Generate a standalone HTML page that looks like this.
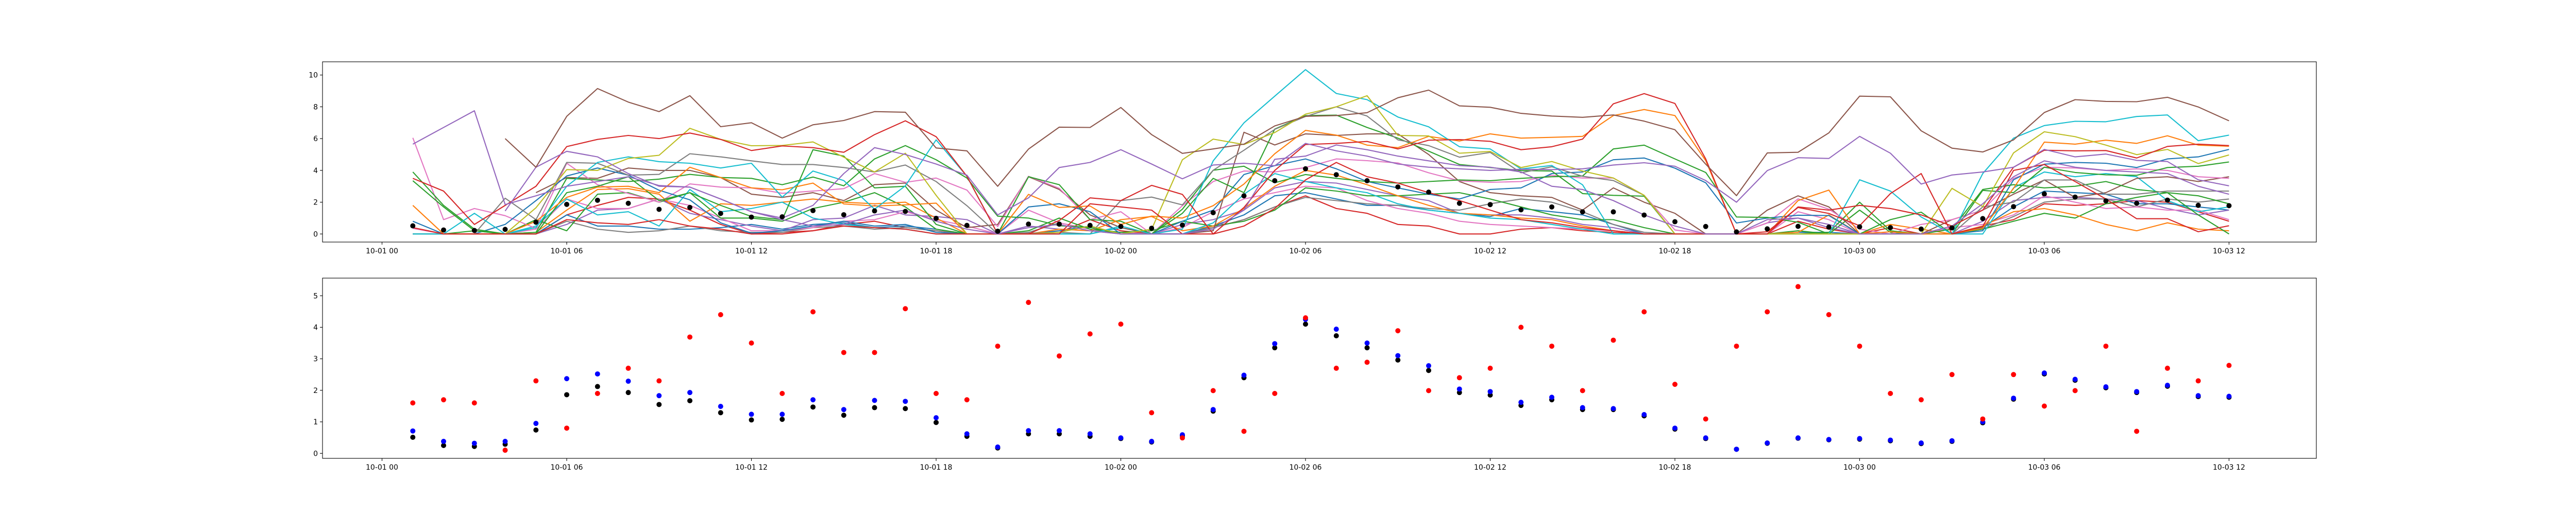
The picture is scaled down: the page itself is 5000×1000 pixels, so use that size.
<!DOCTYPE html>
<html><head><meta charset="utf-8">
<style>
html,body{margin:0;padding:0;background:#fff;}
svg{display:block;font-family:"DejaVu Sans","Liberation Sans",sans-serif;}
</style></head>
<body>
<svg id="fig" width="5000" height="1000" viewBox="0 0 5000 1000" xmlns="http://www.w3.org/2000/svg">
<rect x="0" y="0" width="5000" height="1000" fill="#fff"/>
<g id="top"></g>
<g id="bot"></g>
</svg>
<script>
const hours=[1,2,3,4,5,6,7,8,9,10,11,12,13,14,15,16,17,18,19,20,21,22,23,24,25,26,27,28,29,30,31,32,33,34,35,36,37,38,39,40,41,42,43,44,45,46,47,48,49,50,51,52,53,54,55,56,57,58,59,60];
const xTickHours=[0,6,12,18,24,30,36,42,48,54,60];
const xTickLabels=["10-01 00","10-01 06","10-01 12","10-01 18","10-02 00","10-02 06","10-02 12","10-02 18","10-03 00","10-03 06","10-03 12"];
const topYTicks=[0,2,4,6,8,10];
const botYTicks=[0,1,2,3,4,5];
const meanVals=[0.51,0.25,0.22,0.29,0.74,1.86,2.12,1.93,1.55,1.67,1.29,1.06,1.08,1.47,1.21,1.45,1.42,0.98,0.54,0.17,0.62,0.62,0.54,0.47,0.36,0.56,1.34,2.40,3.35,4.10,3.73,3.35,2.96,2.63,1.93,1.85,1.52,1.70,1.39,1.39,1.19,0.77,0.47,0.13,0.32,0.48,0.43,0.45,0.40,0.31,0.38,0.97,1.72,2.52,2.32,2.08,1.93,2.13,1.80,1.78];
const blueVals=[0.71,0.38,0.32,0.38,0.95,2.37,2.52,2.29,1.83,1.93,1.49,1.24,1.24,1.70,1.39,1.68,1.65,1.13,0.62,0.20,0.72,0.72,0.62,0.49,0.38,0.59,1.39,2.48,3.48,4.25,3.94,3.50,3.10,2.78,2.04,1.96,1.62,1.78,1.45,1.42,1.23,0.80,0.49,0.13,0.33,0.49,0.44,0.47,0.42,0.33,0.40,1.00,1.75,2.55,2.35,2.11,1.96,2.16,1.83,1.81];
const redVals=[1.60,1.70,1.60,0.10,2.30,0.80,1.90,2.70,2.30,3.69,4.40,3.50,1.90,4.49,3.20,3.20,4.59,1.90,1.70,3.40,4.79,3.09,3.79,4.10,1.29,0.49,1.99,0.70,1.90,4.30,2.70,2.89,3.89,1.99,2.40,2.70,4.00,3.40,1.99,3.59,4.49,2.19,1.09,3.40,4.49,5.29,4.40,3.40,1.90,1.70,2.50,1.09,2.50,1.50,1.99,3.40,0.70,2.70,2.30,2.79];

const c8=[0.4,0,0,0,0,1.2,1.8,2.3,2.2,1.5,0.6,0,0.1,0.2,0.6,0.8,0.4,0.2,0,0,0,0.1,0.9,0.2,0,0,0.4,0.9,1.7,2.4,1.6,1.3,0.6,0.5,0,0,0.3,0.4,0.2,0.1,0,0,0,0,0,0.8,0.3,0,0.4,0,0,0.5,0.9,1.9,1.8,1.9,2.1,2.0,1.4,0.8];
const c7=[0,0,0,0,0,1.2,0.5,0.5,0.3,0.3,0.4,0.6,0.3,0.6,0.7,0.4,0.5,0.3,0,0,0,0.2,0.5,0,0,0,0.5,1.2,2.4,2.6,2.2,1.8,1.8,1.5,1.3,1.1,1.6,1.4,1.2,0.6,0,0,0,0,0,0.1,0.1,0,0,0,0,0.4,1.7,2.7,2.6,2.5,1.9,1.9,1.7,1.5];
const c6=[0,0,0,0,0,0.6,1.5,1.6,2.2,1.3,0.9,0.5,0.2,0.9,1.0,1.8,1.2,1.1,0.9,0,0.5,0.3,0.2,0,0,0.6,0.9,1.5,2.9,3.3,3.2,2.8,2.4,2.1,1.3,1.2,1.2,1.0,0.6,0.4,0,0,0,0,0.7,1.0,0.4,0,0,0,0,0.8,2.1,2.3,2.3,2.2,2.1,1.6,1.2,1.5];
const c5=[0,0,0,0,0,0.8,0.3,0.1,0.2,0.5,0.2,0.1,0.1,0.4,0.5,0.3,0.4,0.2,0,0,0.1,0.7,0.3,0,0,0,0.4,0.9,1.7,2.3,2.1,1.9,1.8,1.6,1.5,1.9,2.2,2.0,1.4,0.6,0.1,0,0,0,0,0,0,0,0,0,0,0.3,1.1,2.0,2.2,2.2,1.7,2.2,2.0,2.2];
const c4=[0.35,0,0,0,0.3,2.2,1.6,1.6,2.2,1.8,1.0,0.2,0.2,0.4,0.8,0.9,1.4,0.9,0.5,0,1.5,0.7,0.3,0.1,0,0.4,1.4,2.2,2.6,3.0,2.9,2.1,1.6,1.3,0.8,0.6,0.5,0.4,0.3,0.2,0,0,0,0,0,1.4,0.9,0,0,0,0.4,0.6,1.2,2.4,2.0,1.6,1.7,1.5,1.5,0.9];
const c3=[0,0,0.2,0,0.9,0.2,2.5,2.6,2.0,2.6,1.0,1.0,0.8,1.6,2.0,2.6,1.7,0.3,0,0,0.2,1.0,0.3,0.1,0.2,0.8,0.5,0.8,1.5,2.9,2.7,2.4,2.4,2.5,2.6,2.2,1.7,1.2,0.9,0.9,0.4,0,0,0,0,0.2,0,1.5,0.1,0,0,0.3,0.8,1.3,1.0,1.9,2.3,2.6,2.4,1.9];
const c2=[0,0,0,0,0.1,1.5,2.8,2.85,2.5,0.8,1.9,1.8,2.0,2.2,2.0,1.9,2.0,1.0,0,0,0,0.3,0.2,0.9,1.1,0.2,0.5,1.6,3.0,4.0,3.7,3.1,2.4,1.8,1.3,1.2,1.0,0.9,0.5,0.2,0,0,0,0,0,0.1,1.2,0,0.6,0.3,0,0.5,1.4,1.6,1.2,0.6,0.2,0.7,0.3,0.2];
const c1=[0,0,0,0,0.5,2.2,1.2,1.4,0.5,2.8,1.4,1.6,2.0,1.0,0.6,0.4,0.3,0,0,0,0,0,0,0.4,0,0,0.7,2.5,3.8,3.3,2.9,2.6,1.9,1.5,1.3,1.0,0.9,0.6,0.3,0,0,0,0,0,0,0,0,0,0,0,0,0,2.9,3.9,3.6,3.8,3.6,2.1,1.4,1.7];
const brown2=[null,null,null,null,2.6,3.55,3.5,4.15,4.0,4.0,3.55,2.5,2.3,2.6,2.1,3.1,3.2,1.5,0.4,0.6,3.6,2.8,1.2,0.4,0,0,0.2,6.4,5.6,6.3,6.2,6.3,6.3,5.0,3.3,2.6,2.4,2.3,1.5,2.9,2.0,1.3,0,0,1.5,2.4,1.7,0,0,0,0.9,1.5,2.5,3.4,2.3,2.6,3.5,3.6,3.3,3.6];
const pinkLine=[6.05,0.9,1.6,1.15,0.35,4.45,3.1,2.55,2.0,3.15,2.95,2.9,2.56,2.7,2.85,3.8,3.25,3.52,2.76,0.47,3.63,2.87,0.9,1.4,0,1.78,3.3,3.96,3.9,4.18,4.72,4.61,4.47,3.85,3.34,3.25,3.3,3.69,3.52,3.52,2.43,0.25,0,0,0.69,2.21,1.56,0.3,0,0.6,0.9,1.5,3.5,4.2,4.15,4.0,4.1,4.0,3.6,3.5];
const blueLine=[0.8,0,0,0.6,2.1,3.65,4.15,3.7,2.75,2.15,0.7,0.05,0.2,0.5,0.8,0.5,0.6,0.1,0,0,1.7,1.9,1.4,0,0,0.8,1.5,3.74,4.3,4.72,4.1,3.3,2.9,2.5,2.2,2.8,2.9,3.8,3.9,4.67,4.78,4.14,3.22,0.69,1.0,1.18,1.16,0,0,0,0,0.2,3.41,4.39,4.5,4.45,4.18,4.72,4.85,5.32];
const green2=[3.35,1.7,0.2,0,0,2.6,3.0,3.6,2.1,2.6,1.8,1.1,0.9,5.3,4.9,2.9,3.0,0.6,0,0,3.6,3.1,0.9,0.8,0,1.3,3.5,2.6,6.6,7.45,7.48,6.7,6.03,5.21,4.37,4.18,3.99,3.96,2.54,2.43,2.38,0,0,0,0,0,0.1,2.0,0.2,0,0.3,2.8,3.1,2.9,3.0,3.3,2.8,2.6,1.2,0];
const green1=[3.9,1.8,0.3,0,0.1,3.5,3.4,3.3,3.45,3.75,3.55,3.5,3.1,3.58,3.03,4.72,5.56,4.67,3.52,1.12,1.0,0.52,0.41,0,0,1.56,4.01,4.26,3.22,3.74,3.5,3.3,3.2,3.3,3.4,3.35,3.5,3.6,3.65,5.35,5.59,4.72,3.87,1.07,1.04,0.74,0,0,0.9,1.37,0,2.74,2.6,4.2,3.87,3.72,3.69,4.18,4.26,4.53];
const grayLine=[0,0,0,2.25,0.9,4.5,4.45,3.7,3.75,5.05,4.85,4.6,4.37,4.37,4.18,3.9,4.34,3.3,1.78,0,0.05,0.1,0,2.1,2.32,1.83,4.01,5.27,6.58,7.39,8.0,7.42,5.92,5.56,4.83,5.13,3.85,4.23,3.63,3.36,2.43,0,0,0,0,0,0,0,0,0,0,1.7,2.0,3.4,3.4,2.5,2.5,2.7,2.7,2.7];
const orangeLine=[1.8,0,0,0,0.8,2.3,2.95,3.0,2.6,4.2,3.55,2.9,2.78,3.2,1.89,1.76,1.83,1.94,0,0,2.49,1.67,1.76,0.6,1.12,1.0,1.78,3.14,5.05,6.52,6.22,5.59,5.43,6.14,5.85,6.3,6.03,6.08,6.14,7.45,7.83,7.45,4.61,0,0,2.1,2.76,0,0.14,0,0,0.36,2.87,5.78,5.65,5.9,5.7,6.18,5.59,5.52];
const cyanLine=[0,0,1.3,0,0.4,3.0,4.5,4.85,4.55,4.45,4.15,4.45,2.32,3.96,3.36,1.56,3.03,5.92,3.63,0,0,0,0,0.5,0,0.3,4.6,6.99,8.67,10.34,8.84,8.45,7.36,6.74,5.49,5.35,4.09,4.31,3.09,0,0,0,0,0,0,0,0,3.41,2.7,1.07,0,3.8,6.03,6.82,7.09,7.06,7.39,7.49,5.87,6.22];
const oliveLine=[null,null,null,0,1.65,4.05,4.0,4.75,4.95,6.65,5.95,5.55,5.57,5.79,4.83,3.9,5.08,2.43,0,0,0,0.1,0.5,0,0.3,4.67,5.97,5.63,6.38,7.54,8.0,8.7,6.2,6.17,5.08,5.19,4.18,4.56,3.96,3.52,2.43,0,0,0,0,0,0,0,0,0,2.87,1.72,5.1,6.43,6.12,5.59,4.99,5.32,4.43,4.97];
const red2=[0.4,0,0,0,0,0.9,0.7,0.6,0.9,0.5,0.3,0,0,0.2,0.5,0.4,0.3,0,0,0,0,0,1.9,1.7,1.5,0,0,0.5,1.6,3.4,4.5,3.6,3.2,2.6,2.1,1.5,0.9,0.7,0.4,0.2,0,0,0,0,0,1.7,1.5,1.8,1.6,1.2,0.5,1.5,4.2,5.27,5.23,5.25,4.78,5.51,5.65,5.56];
const red1=[3.5,2.7,0.6,1.8,3.0,5.5,5.95,6.2,6.0,6.35,5.95,5.25,5.54,5.43,5.14,6.25,7.12,6.12,3.63,0,0,0.85,2.27,2.1,3.06,2.49,0,1.67,4.0,5.63,5.7,5.82,5.35,5.9,5.94,5.83,5.3,5.49,5.97,8.19,8.83,8.21,4.72,0,0.14,1.67,1.29,0.52,2.54,3.8,0,0.47,4.0,4.37,3.3,2.2,0.96,0.96,0.14,0.52];
const purple1=[null,null,null,1.45,4.2,5.2,4.85,3.8,3.0,2.95,2.2,1.4,0.9,0.5,0.6,1.2,1.5,0.8,0.3,0,0.4,0.6,0.2,0,0,0,0.3,1.5,4.7,4.9,5.6,5.3,4.9,4.6,4.3,4.2,3.9,3.0,2.8,2.1,1.2,0.5,0,0,0.9,1.0,0.6,0,0,0,0.5,1.9,3.6,4.6,4.2,4.0,3.9,3.8,3.0,2.5];
const purple2=[5.65,6.7,7.75,1.85,2.4,3.0,3.3,3.6,3.05,2.95,2.2,1.4,1.0,1.8,3.8,5.43,5.0,4.4,3.7,1.2,2.27,4.18,4.5,5.3,4.4,3.47,4.34,4.45,4.29,5.7,5.23,4.9,4.4,4.2,4.1,4.0,4.07,4.05,4.1,4.34,4.48,4.26,3.36,2.0,3.99,4.8,4.75,6.14,5.08,3.14,3.71,3.9,4.2,5.32,4.85,5.03,4.63,4.56,3.41,3.03];
const brownTop=[null,null,null,6.0,4.2,7.4,9.15,8.3,7.7,8.7,6.75,7.0,6.03,6.87,7.14,7.7,7.66,5.41,5.23,3.0,5.34,6.72,6.70,7.96,6.25,5.07,5.35,5.65,6.8,7.4,7.45,7.63,8.57,9.05,8.06,7.97,7.59,7.42,7.34,7.49,7.1,6.56,4.39,2.41,5.1,5.14,6.36,8.67,8.63,6.49,5.4,5.16,5.92,7.64,8.45,8.34,8.32,8.6,7.99,7.12];

const NS="http://www.w3.org/2000/svg";
const AX_L=626, AX_R=4496;
function xS(h){return 741.5+h*59.75;}
function yTop(v){return 454.3-v*30.86;}
function yBot(v){return 880.3-v*61.2;}
function mk(tag,attrs,parent){const e=document.createElementNS(NS,tag);for(const k in attrs)e.setAttribute(k,attrs[k]);parent.appendChild(e);return e;}

function drawAxes(g,top,bot,yTicks,yFn,prefix){
  for(let i=0;i<xTickHours.length;i++){
    const x=xS(xTickHours[i]);
    const t=mk('line',{x1:x,x2:x,y1:bot,y2:bot+5,stroke:'#000','stroke-width':1.1},g);
    
    
    const lb=mk('text',{x:x,y:bot+22,'font-size':14,'text-anchor':'middle',fill:'#000'},g);
    lb.textContent=xTickLabels[i];
    
    
  }
  for(let i=0;i<yTicks.length;i++){
    const y=yFn(yTicks[i]);
    const t=mk('line',{x1:AX_L-5,x2:AX_L,y1:y,y2:y,stroke:'#000','stroke-width':1.1},g);
    
    
    const lb=mk('text',{x:AX_L-9,y:y+5,'font-size':14,'text-anchor':'end',fill:'#000'},g);
    lb.textContent=String(yTicks[i]);
    
    
  }
  const fr=mk('rect',{x:AX_L,y:top,width:AX_R-AX_L,height:bot-top,fill:'none',stroke:'#000','stroke-width':1.1},g);
  
  
}

const topG=document.getElementById('top');
const series=[
 [c8,'#d62728'],[c7,'#1f77b4'],[c6,'#9467bd'],[c5,'#7f7f7f'],[c4,'#e377c2'],[c3,'#2ca02c'],[c2,'#ff7f0e'],[c1,'#17becf'],
 [brown2,'#8c564b'],[pinkLine,'#e377c2'],[blueLine,'#1f77b4'],[green2,'#2ca02c'],[green1,'#2ca02c'],[grayLine,'#7f7f7f'],
 [orangeLine,'#ff7f0e'],[cyanLine,'#17becf'],[oliveLine,'#bcbd22'],[red2,'#d62728'],[red1,'#d62728'],[purple1,'#9467bd'],[purple2,'#9467bd'],[brownTop,'#8c564b']
];
series.forEach((s,si)=>{
  const vals=s[0];let d='';let pen=false;
  for(let i=0;i<hours.length;i++){
    const v=vals[i];
    if(v===null||v===undefined){pen=false;continue;}
    d+=(pen?'L':'M')+xS(hours[i]).toFixed(1)+','+yTop(v).toFixed(1);pen=true;
  }
  const p=mk('path',{d:d,fill:'none',stroke:s[1],'stroke-width':2.1,'stroke-linejoin':'round'},topG);
  
  
});
for(let i=0;i<hours.length;i++){
  const c=mk('circle',{cx:xS(hours[i]),cy:yTop(meanVals[i]),r:5,fill:'#000'},topG);
  
  
}
drawAxes(topG,120,470,topYTicks,yTop,'top');

const botG=document.getElementById('bot');
[[meanVals,'#000','black-point'],[blueVals,'#0000ff','blue-point'],[redVals,'#ff0000','red-point']].forEach(s=>{
  for(let i=0;i<hours.length;i++){
    const c=mk('circle',{cx:xS(hours[i]),cy:yBot(s[0][i]),r:5,fill:s[1]},botG);
    
    
  }
});
drawAxes(botG,540,890,botYTicks,yBot,'bottom');
</script>
</body></html>
